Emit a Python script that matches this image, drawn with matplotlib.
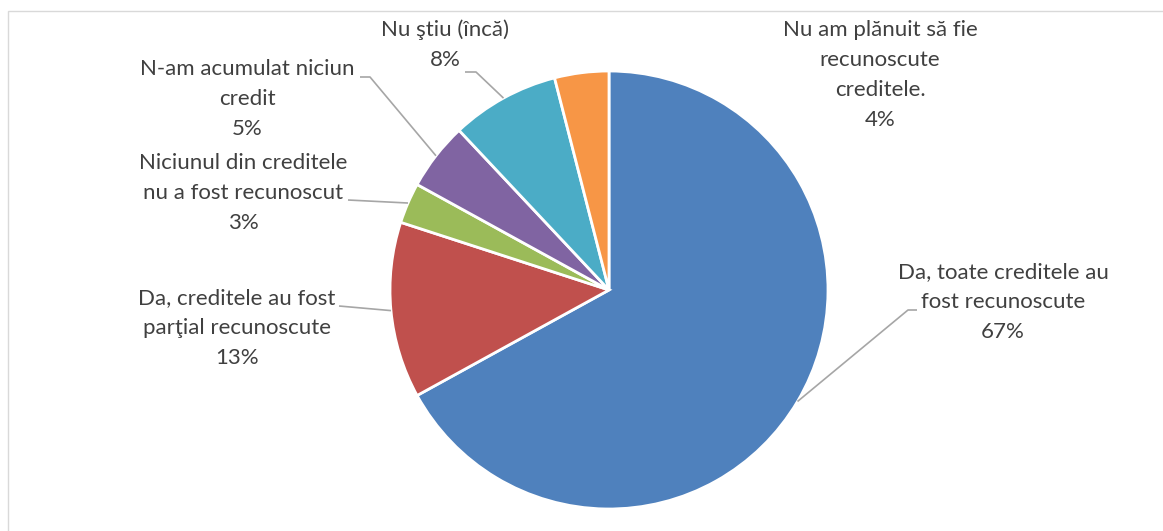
import numpy as np
import matplotlib.pyplot as plt
from matplotlib.patches import Rectangle

# slices, clockwise from 12 o'clock
labels = ["Da, toate creditele au\nfost recunoscute",
          "Da, creditele au fost\nparţial recunoscute",
          "Niciunul din creditele\nnu a fost recunoscut",
          "N-am acumulat niciun\ncredit",
          "Nu ştiu (încă)",
          "Nu am plănuit să fie\nrecunoscute\ncreditele."]
values = [67, 13, 3, 5, 8, 4]
colors = ["#4F81BD", "#C0504D", "#9BBB59", "#8064A2", "#4BACC6", "#F79646"]

W, H = 1163, 531
fig = plt.figure(figsize=(W / 100, H / 100), dpi=100)
ax = fig.add_axes([0, 0, 1, 1])

# chart frame
fig.patches.append(Rectangle((8 / W, 0 - 0.1), 1.2, (H - 11) / H + 0.1, transform=fig.transFigure,
                             fill=False, edgecolor="#d9d9d9", linewidth=1))

cx, cy, r = 609, H - 290, 219
wedges, _ = ax.pie(values, colors=colors, startangle=90, counterclock=False,
                   center=(cx, cy), radius=r, frame=True,
                   wedgeprops=dict(edgecolor="white", linewidth=2))
ax.set_xlim(0, W)
ax.set_ylim(0, H)
ax.set_aspect("equal")
ax.axis("off")

# label text positions (pixel coords from top) and leader elbows
text_pos = [(1003, 302), (237, 328), (243, 193), (247, 99), (445, 45), (880, 75)]
leaders = [[(917, 310), (908, 310)],
           [(339, 306)],
           [(348, 200)],
           [(360, 77), (370, 77)],
           [(465, 72), (476, 72)],
           None]

font = dict(family="Lato", size=16, color="#404040")
for w, lab, v, (tx, ty), ld in zip(wedges, labels, values, text_pos, leaders):
    ax.text(tx, H - ty, lab + "\n%d%%" % v, ha="center", va="center",
            linespacing=1.62, **font)
    if ld is None:
        continue
    mid = np.deg2rad((w.theta1 + w.theta2) / 2)
    ex, ey = cx + r * np.cos(mid), cy + r * np.sin(mid)
    xs = [p[0] for p in ld] + [ex]
    ys = [H - p[1] for p in ld] + [ey]
    ax.plot(xs, ys, color="#a6a6a6", linewidth=1.2, solid_capstyle="butt")

fig.savefig("out.png", dpi=100)
